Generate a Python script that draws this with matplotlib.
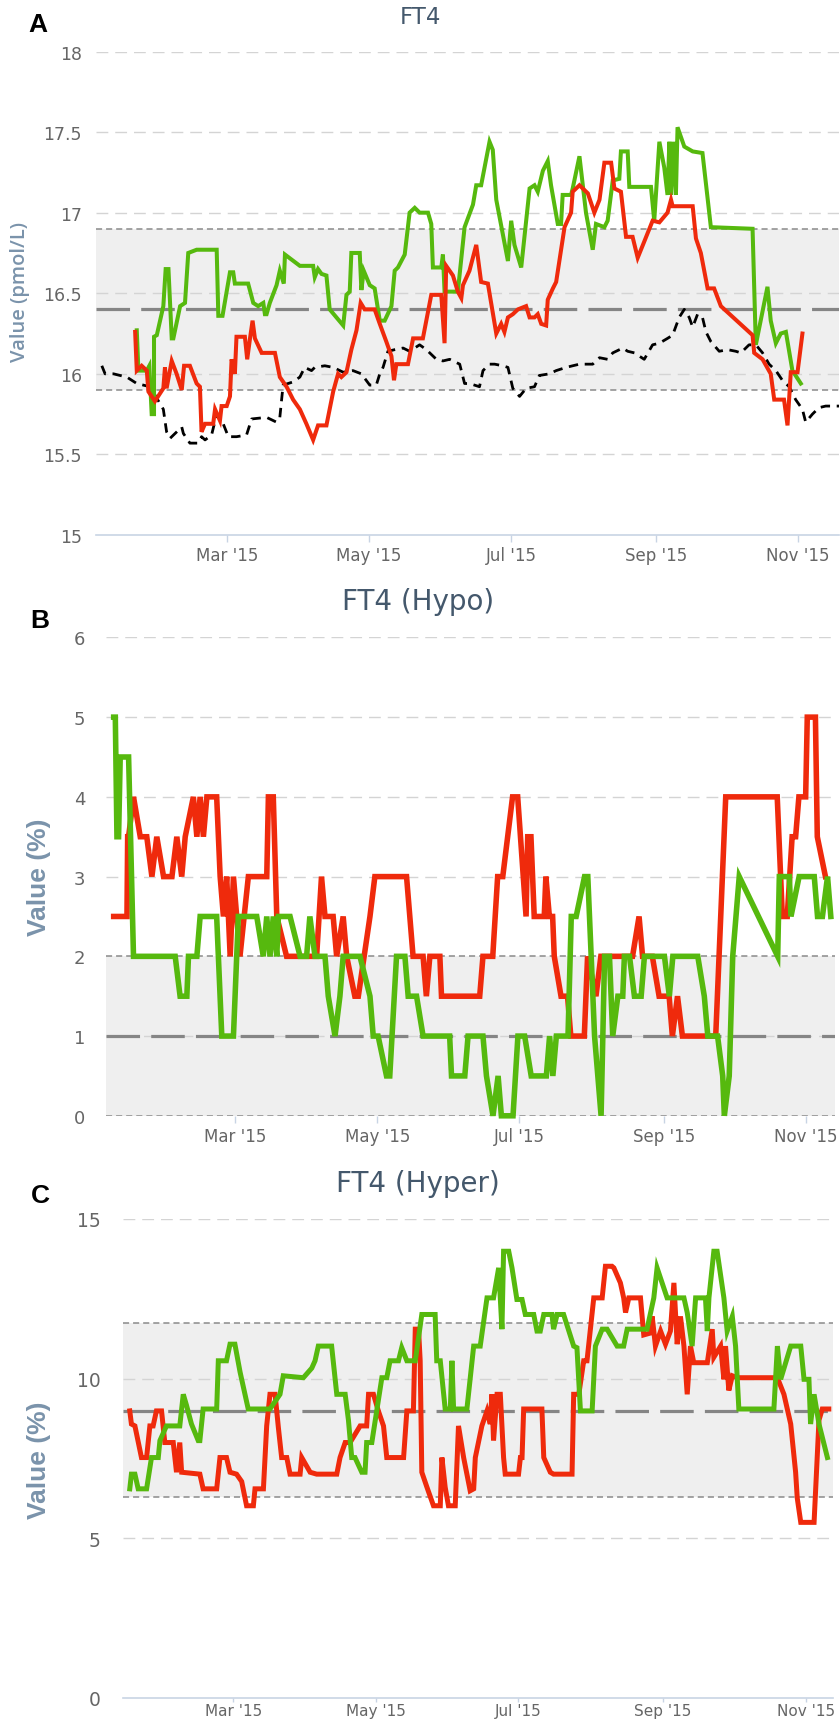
import numpy as np
import matplotlib
matplotlib.use('Agg')
import matplotlib.pyplot as plt
import matplotlib.dates as mdates
import datetime as dt

# ---------------- data (day offset from 2015-01-01, value) ----------------
a_green_day = [20.3, 21.0, 24.6, 25.7, 26.7, 27.7, 27.7, 28.9, 31.7, 32.7, 33.9, 35.3, 36.0, 38.9, 41.0, 42.4, 46.0, 54.6,
               55.3, 57.1, 60.3, 61.7, 62.4, 68.1, 70.3, 72.4, 74.6, 75.3, 76.0, 77.4, 80.3, 81.7, 83.4, 83.9, 90.3, 96.0,
               96.7, 98.1, 99.6, 101.7, 103.1, 108.9, 110.3, 111.7, 112.4, 116.0, 116.7, 117.7, 120.3, 122.4, 124.6, 126.7,
               129.6, 131.0, 132.4, 135.3, 137.4, 139.6, 141.7, 145.3, 146.7, 147.4, 151.0, 151.7, 152.4, 158.1, 161.0,
               164.6, 166.0, 168.1, 171.7, 173.1, 174.6, 179.6, 181.0, 182.4, 185.3, 188.9, 191.0, 192.4, 194.6, 196.7,
               198.1, 201.0, 202.4, 203.1, 206.7, 207.4, 210.3, 213.1, 216.0, 217.4, 221.0, 222.4, 224.6, 227.4, 228.1,
               231.0, 231.7, 241.0, 242.4, 244.6, 246.7, 248.1, 248.9, 249.6, 250.6, 251.7, 252.4, 255.3, 258.9, 263.1,
               266.0, 266.7, 284.6, 286.0, 291.0, 292.4, 294.6, 296.7, 298.9, 301.7, 305.3]
a_green_val = [16.27, 16.02, 16.02, 16.05, 15.75, 15.75, 16.23, 16.24, 16.42, 16.65, 16.65, 16.22, 16.22, 16.42, 16.44, 16.75,
               16.77, 16.77, 16.36, 16.36, 16.63, 16.63, 16.56, 16.56, 16.44, 16.42, 16.44, 16.37, 16.37, 16.44, 16.55, 16.64,
               16.56, 16.74, 16.67, 16.67, 16.60, 16.65, 16.62, 16.61, 16.40, 16.30, 16.49, 16.51, 16.75, 16.75, 16.52, 16.64,
               16.55, 16.53, 16.33, 16.33, 16.42, 16.64, 16.66, 16.74, 17.00, 17.03, 17.00, 17.00, 16.93, 16.66, 16.66, 16.74,
               16.51, 16.51, 16.91, 17.05, 17.17, 17.17, 17.44, 17.39, 17.08, 16.70, 16.95, 16.80, 16.66, 17.15, 17.17, 17.13,
               17.26, 17.32, 17.17, 16.93, 16.93, 17.11, 17.11, 17.15, 17.35, 17.00, 16.77, 16.93, 16.91, 16.95, 17.20, 17.21,
               17.38, 17.38, 17.16, 17.16, 16.95, 17.44, 17.28, 17.11, 17.44, 17.11, 17.44, 17.11, 17.53, 17.41, 17.38, 17.37,
               17.00, 16.91, 16.90, 16.18, 16.54, 16.33, 16.19, 16.25, 16.26, 16.02, 15.94]

a_red_day = [19.6, 20.3, 22.4, 24.6, 25.3, 28.1, 31.7, 32.4, 33.1, 35.3, 37.4, 39.6, 40.6, 43.1, 46.0, 47.4, 48.1, 49.6, 53.1,
             53.9, 56.0, 56.7, 58.9, 60.3, 61.0, 62.4, 63.1, 66.7, 67.7, 68.9, 70.0, 71.0, 73.9, 79.6, 81.7, 84.6, 87.4, 90.3,
             93.1, 96.0, 98.1, 101.7, 104.6, 106.7, 108.1, 110.3, 112.4, 114.6, 116.4, 118.1, 122.4, 124.6, 127.4, 129.6,
             130.7, 131.7, 136.7, 138.9, 141.7, 143.1, 146.7, 151.0, 152.4, 153.1, 156.0, 158.1, 159.6, 160.3, 163.1, 166.0,
             168.1, 171.0, 174.6, 176.7, 178.1, 179.6, 181.7, 183.9, 187.4, 188.9, 191.0, 192.4, 193.9, 196.0, 196.7, 198.9,
             200.3, 203.9, 206.7, 207.4, 210.3, 213.9, 216.7, 218.9, 221.0, 223.9, 225.3, 228.1, 230.3, 233.1, 235.3, 238.1,
             241.7, 244.6, 248.1, 249.6, 250.3, 258.9, 260.3, 262.4, 265.3, 268.1, 271.0, 284.6, 285.3, 288.9, 292.4, 293.9,
             298.1, 299.6, 301.0, 303.9, 306.0]
a_red_val = [16.26, 16.02, 16.05, 16.02, 15.89, 15.83, 15.91, 16.04, 15.91, 16.08, 16.00, 15.90, 16.05, 16.05, 15.94, 15.92,
             15.64, 15.69, 15.69, 15.78, 15.71, 15.80, 15.80, 15.86, 16.09, 16.00, 16.23, 16.23, 16.09, 16.22, 16.33, 16.22,
             16.13, 16.13, 15.98, 15.92, 15.84, 15.78, 15.69, 15.59, 15.68, 15.68, 15.89, 16.00, 15.98, 16.01, 16.15, 16.27,
             16.44, 16.40, 16.40, 16.31, 16.20, 16.11, 15.96, 16.06, 16.06, 16.22, 16.22, 16.22, 16.49, 16.49, 16.19, 16.67,
             16.61, 16.51, 16.47, 16.55, 16.64, 16.80, 16.57, 16.56, 16.25, 16.31, 16.26, 16.35, 16.37, 16.40, 16.42, 16.35,
             16.35, 16.37, 16.31, 16.30, 16.46, 16.53, 16.57, 16.91, 17.00, 17.13, 17.17, 17.12, 17.00, 17.08, 17.31, 17.31,
             17.15, 17.13, 16.85, 16.85, 16.72, 16.82, 16.95, 16.94, 17.00, 17.08, 17.04, 17.04, 16.84, 16.75, 16.53, 16.53,
             16.42, 16.24, 16.13, 16.09, 16.00, 15.84, 15.84, 15.68, 16.01, 16.01, 16.25]

a_ref_day = [5.3, 6.7, 10.3, 13.1, 16.0, 20.3, 23.1, 26.0, 31.7, 33.1, 34.6, 39.6, 40.3, 43.1, 46.7, 48.1, 49.6, 52.4, 54.6,
             57.4, 59.6, 63.1, 67.4, 69.6, 76.0, 80.3, 81.7, 83.1, 87.4, 90.3, 92.4, 95.3, 96.7, 101.0, 104.6, 108.9, 113.1,
             116.7, 120.3, 123.1, 124.6, 126.0, 128.1, 131.0, 134.6, 137.4, 141.7, 144.6, 148.9, 151.7, 154.6, 158.9, 161.0,
             163.1, 167.4, 168.9, 171.7, 173.9, 177.4, 179.6, 181.7, 184.6, 187.4, 191.0, 193.1, 197.4, 200.3, 204.6, 207.4,
             210.3, 213.1, 216.0, 218.9, 222.4, 224.6, 228.9, 231.0, 233.9, 236.0, 238.1, 241.7, 244.6, 248.1, 250.3, 253.1,
             255.3, 257.4, 258.9, 261.0, 263.1, 264.6, 266.7, 270.3, 273.9, 277.4, 279.6, 283.1, 286.0, 288.9, 291.7, 294.6,
             297.4, 300.3, 303.1, 306.0, 307.4, 310.3, 313.1, 316.0, 321.7]
a_ref_val = [16.05, 16.00, 16.00, 15.99, 15.98, 15.94, 15.93, 15.92, 15.78, 15.64, 15.60, 15.67, 15.63, 15.57, 15.57, 15.61,
             15.59, 15.62, 15.75, 15.69, 15.61, 15.61, 15.62, 15.72, 15.73, 15.70, 15.73, 15.93, 15.95, 15.98, 16.04, 16.02,
             16.04, 16.05, 16.04, 16.01, 16.02, 16.00, 15.93, 15.93, 16.00, 16.04, 16.14, 16.15, 16.16, 16.14, 16.18, 16.15,
             16.09, 16.08, 16.09, 16.06, 15.94, 15.94, 15.92, 16.02, 16.06, 16.06, 16.05, 16.04, 15.91, 15.86, 15.91, 15.92,
             15.99, 16.00, 16.02, 16.04, 16.05, 16.06, 16.06, 16.06, 16.10, 16.09, 16.13, 16.16, 16.14, 16.13, 16.11, 16.09,
             16.18, 16.19, 16.22, 16.24, 16.35, 16.40, 16.35, 16.29, 16.37, 16.35, 16.26, 16.20, 16.14, 16.15, 16.14, 16.13,
             16.18, 16.18, 16.13, 16.06, 16.02, 15.96, 15.92, 15.84, 15.78, 15.70, 15.75, 15.79, 15.80, 15.80]

b_green_day = [6.9, 7.6, 8.3, 9.0, 9.7, 13.3, 15.4, 33.3, 35.4, 38.3, 39.0, 42.6, 44.0, 51.1, 53.3, 58.3, 60.4, 68.3, 71.1,
               72.6, 74.0, 75.4, 76.9, 77.6, 82.6, 86.9, 89.7, 91.1, 93.3, 97.6, 99.0, 101.9, 104.0, 105.4, 112.6, 116.9,
               118.3, 120.4, 124.0, 125.4, 128.3, 131.9, 133.3, 136.9, 139.7, 151.1, 151.9, 157.6, 159.0, 165.4, 166.9, 169.7,
               171.9, 173.3, 178.3, 180.4, 183.3, 186.1, 192.6, 194.0, 195.4, 196.9, 201.9, 203.3, 205.4, 209.0, 210.4, 213.3,
               216.1, 217.6, 219.7, 221.1, 223.3, 225.4, 226.1, 228.3, 230.4, 233.3, 234.7, 243.3, 245.4, 246.9, 257.6, 260.4,
               261.9, 266.1, 268.3, 269.0, 271.1, 272.6, 275.4, 291.9, 292.6, 296.9, 297.6, 301.1, 307.6, 309.0, 311.1, 313.3,
               314.7]
b_green_val = [5, 5, 3.5, 3.5, 4.5, 4.5, 2, 2, 1.5, 1.5, 2, 2, 2.5, 2.5, 1, 1, 2.5, 2.5, 2, 2.5, 2, 2.5, 2, 2.5, 2.5, 2, 2,
               2.5, 2, 2, 1.5, 1, 1.5, 2, 2, 1.5, 1, 1, 0.5, 0.5, 2, 2, 1.5, 1.5, 1, 1, 0.5, 0.5, 1, 1, 0.5, 0, 0.5, 0, 0, 1,
               1, 0.5, 0.5, 1, 0.5, 1, 1, 2.5, 2.5, 3, 3, 1, 0, 2, 2, 1, 1.5, 1.5, 2, 2, 1.5, 1.5, 2, 2, 1.5, 2, 2, 1.5, 1, 1,
               0.5, 0, 0.5, 2, 3, 2, 3, 3, 2.5, 3, 3, 2.5, 2.5, 3, 2.5]

b_red_day = [6.9, 12.6, 12.9, 13.3, 15.4, 18.3, 21.1, 23.3, 25.4, 28.3, 31.9, 34.0, 36.1, 37.6, 41.1, 42.6, 44.0, 45.4, 46.9,
             51.1, 52.6, 54.0, 55.4, 56.9, 58.3, 61.1, 64.7, 72.6, 73.3, 75.4, 76.9, 81.1, 94.0, 96.1, 97.6, 101.1, 102.6,
             105.4, 106.9, 110.4, 111.9, 116.9, 119.0, 132.6, 135.4, 139.7, 141.1, 142.6, 146.9, 147.6, 164.0, 165.4, 169.6,
             171.7, 173.9, 176.0, 178.1, 180.3, 183.9, 184.6, 186.0, 187.4, 191.7, 192.4, 193.9, 195.3, 196.0, 198.9, 201.7,
             203.1, 208.9, 210.3, 213.9, 216.0, 229.6, 232.4, 233.9, 238.1, 241.0, 245.3, 246.7, 248.9, 251.0, 265.3, 269.6,
             291.7, 293.9, 296.0, 298.1, 299.6, 301.0, 303.9, 304.6, 308.1, 308.9, 312.4]
b_red_val = [2.5, 2.5, 3.5, 3.5, 4, 3.5, 3.5, 3, 3.5, 3, 3, 3.5, 3, 3.5, 4, 3.5, 4, 3.5, 4, 4, 3, 2.5, 3, 2, 3, 2, 3, 3, 4,
             4, 2.5, 2, 2, 3, 2.5, 2.5, 2, 2.5, 2, 1.5, 1.5, 2.5, 3, 3, 2, 2, 1.5, 2, 2, 1.5, 1.5, 2, 2, 3, 3, 3.5, 4, 4, 2.5,
             3.5, 3.5, 2.5, 2.5, 3, 2.5, 2.5, 2, 1.5, 1.5, 1, 1, 2, 1.5, 2, 2, 2.5, 2, 2, 1.5, 1.5, 1, 1.5, 1, 1, 4, 4, 2.5,
             2.5, 3.5, 3.5, 4, 4, 5, 5, 3.5, 3]

c_green_day = [14.7, 15.4, 16.9, 18.3, 21.9, 24.0, 26.9, 27.6, 30.4, 36.1, 37.6, 39.0, 41.1, 44.0, 44.7, 46.1, 51.9, 52.6,
               56.1, 57.6, 59.7, 61.9, 65.4, 74.7, 79.0, 80.4, 89.0, 92.6, 94.0, 95.4, 101.1, 103.3, 106.9, 108.3, 109.7,
               111.1, 114.0, 115.4, 116.1, 118.3, 122.6, 124.7, 126.1, 129.7, 131.1, 133.3, 136.9, 139.7, 145.4, 146.1, 147.6,
               149.7, 151.9, 152.6, 153.3, 156.1, 159.0, 161.9, 164.7, 167.6, 170.4, 172.6, 174.0, 174.7, 176.9, 178.3, 180.4,
               182.6, 184.0, 187.6, 189.0, 190.4, 191.9, 195.4, 196.1, 197.6, 200.4, 204.7, 206.1, 207.6, 212.6, 214.0, 216.9,
               219.0, 223.3, 226.1, 227.6, 236.1, 239.0, 240.4, 244.7, 251.9, 253.3, 255.4, 256.9, 261.1, 261.9, 262.6, 264.7,
               266.1, 269.0, 270.4, 272.6, 274.0, 275.4, 290.4, 291.9, 293.3, 297.6, 301.9, 303.3, 305.4, 306.1, 307.6, 309.7,
               313.3]
c_green_val = [6.55, 7.01, 7.01, 6.55, 6.55, 7.53, 7.53, 8.06, 8.52, 8.52, 9.51, 9.16, 8.58, 8.06, 8.06, 9.05, 9.05, 10.56,
               10.56, 11.08, 11.08, 10.21, 9.05, 9.05, 9.51, 10.09, 10.03, 10.33, 10.56, 11.02, 11.02, 9.51, 9.51, 8.70, 7.53,
               7.53, 7.07, 7.07, 8.00, 8.00, 10.03, 10.03, 10.56, 10.56, 10.97, 10.56, 10.56, 12.01, 12.01, 10.56, 10.56, 9.05,
               9.05, 10.56, 9.05, 9.05, 9.05, 11.02, 11.02, 12.53, 12.53, 13.47, 11.55, 13.99, 13.99, 13.47, 12.48, 12.48,
               12.01, 12.01, 11.49, 11.49, 12.01, 12.01, 11.55, 12.01, 12.01, 11.02, 10.97, 8.99, 8.99, 11.02, 11.55, 11.55,
               11.02, 11.02, 11.55, 11.55, 12.53, 13.47, 12.53, 12.53, 12.07, 11.02, 12.53, 12.53, 11.49, 12.53, 13.99, 13.99,
               12.53, 11.49, 11.95, 11.02, 9.05, 9.05, 11.02, 9.98, 11.02, 11.02, 9.98, 9.98, 8.58, 9.51, 8.58, 7.53]

c_red_day = [14.7, 15.4, 16.9, 19.7, 21.9, 23.3, 24.7, 26.1, 28.3, 29.7, 33.3, 34.7, 36.1, 36.9, 44.7, 46.1, 51.9, 53.3, 56.1,
             57.6, 60.4, 62.6, 64.7, 67.6, 68.3, 71.9, 73.3, 74.7, 76.9, 78.3, 79.7, 81.9, 83.3, 87.6, 88.3, 91.9, 94.7,
             103.3, 104.7, 106.9, 109.0, 113.3, 116.1, 116.9, 119.0, 121.1, 123.3, 124.7, 131.9, 133.3, 136.1, 136.9, 138.3,
             139.0, 139.7, 141.9, 144.7, 147.6, 148.3, 149.7, 151.1, 154.0, 155.4, 157.6, 160.4, 161.9, 162.6, 165.4, 167.6,
             169.0, 169.7, 170.4, 171.9, 173.3, 174.7, 175.4, 181.1, 181.9, 182.6, 183.3, 191.1, 191.9, 194.7, 196.1, 204.0,
             204.7, 206.9, 209.0, 210.4, 213.3, 216.9, 218.3, 221.1, 221.9, 224.7, 226.1, 226.9, 228.3, 233.3, 234.7, 237.6,
             238.3, 239.7, 241.9, 244.0, 246.1, 247.6, 249.0, 250.4, 251.9, 253.3, 254.7, 256.1, 261.9, 264.0, 264.7, 267.6,
             269.0, 269.7, 271.1, 272.6, 274.7, 291.9, 294.7, 297.6, 299.7, 300.4, 301.9, 307.6, 309.7, 311.1, 313.9]
c_red_val = [8.99, 8.58, 8.52, 7.53, 7.53, 8.52, 8.52, 8.99, 8.99, 8.00, 8.00, 7.07, 8.00, 7.07, 7.01, 6.55, 6.55, 7.53,
             7.53, 7.07, 7.01, 6.78, 6.02, 6.02, 6.55, 6.55, 8.52, 9.51, 9.51, 8.47, 7.53, 7.53, 7.01, 7.01, 7.53, 7.07,
             7.01, 7.01, 7.53, 8.00, 8.00, 8.52, 8.52, 9.51, 9.51, 8.99, 8.52, 7.53, 7.53, 8.99, 8.99, 11.55, 11.55, 10.56,
             7.07, 6.60, 6.02, 6.02, 7.53, 6.60, 6.02, 6.02, 8.52, 7.53, 6.49, 6.55, 7.53, 8.52, 8.99, 8.58, 9.51, 8.06,
             9.51, 9.51, 7.53, 7.01, 7.01, 7.53, 7.53, 9.05, 9.05, 7.53, 7.07, 7.01, 7.01, 9.51, 9.51, 10.56, 10.56, 12.53,
             12.53, 13.52, 13.52, 13.47, 13.00, 12.53, 12.07, 12.53, 12.53, 11.37, 11.43, 11.95, 11.02, 11.49, 11.08, 11.49,
             13.00, 11.08, 11.95, 11.02, 9.51, 11.02, 10.50, 10.50, 11.55, 10.67, 11.02, 9.98, 11.02, 9.63, 10.09, 10.03,
             10.03, 9.51, 8.58, 7.07, 6.26, 5.50, 5.50, 8.70, 9.05, 9.05]

titles = ["FT4", "FT4 (Hypo)", "FT4 (Hyper)"]
ylabels = ["Value (pmol/L)", "Value (%)", "Value (%)"]
panel_letters = ["A", "B", "C"]
y_ticks_a = [15, 15.5, 16, 16.5, 17, 17.5, 18]
y_ticks_b = [0, 1, 2, 3, 4, 5, 6]
y_ticks_c = [0, 5, 10, 15]
ref_a = (15.9, 16.4, 16.9)   # lower, mean, upper
ref_b = (0.0, 1.0, 2.0)
ref_c = (6.3, 9.0, 11.73)
month_ticks = [dt.date(2015, 3, 1), dt.date(2015, 5, 1), dt.date(2015, 7, 1), dt.date(2015, 9, 1), dt.date(2015, 11, 1)]
month_labels = ["Mar '15", "May '15", "Jul '15", "Sep '15", "Nov '15"]

# ---------------- drawing ----------------
RED = '#ef2a0c'
GREEN = '#56b90e'
GRID = '#d4d4d4'
BAND_EDGE = '#8a8a8a'
MEAN = '#858585'
TICK = '#666666'
TITLE = '#44586c'
YLAB = '#7a93ab'
AXIS = '#c8d4e4'

base = mdates.date2num(dt.date(2015, 1, 1))


def to_x(days):
    return base + np.asarray(days, dtype=float)


fig = plt.figure(figsize=(8.4, 17.24), dpi=100)

W, H = 840.0, 1724.0
geo = {
    'A': dict(l=96, r=839, t=52.5, b=536, xl=2.8, xr=321.7),
    'B': dict(l=106, r=835, t=638.4, b=1116.8, xl=3.6, xr=316.5),
    'C': dict(l=123, r=833, t=1220, b=1699, xl=11.8, xr=315.7),
}


def make_ax(g):
    return fig.add_axes([g['l'] / W, 1 - g['b'] / H, (g['r'] - g['l']) / W, (g['b'] - g['t']) / H])


def style(ax, g, yticks, ref, ylim, tick_fs, pad, axis_line=True, xfs=12, xpad=3, xlen=5):
    ax.set_xlim(base + g['xl'], base + g['xr'])
    ax.set_ylim(*ylim)
    for s in ax.spines.values():
        s.set_visible(False)
    if axis_line:
        ax.spines['bottom'].set_visible(True)
        ax.spines['bottom'].set_color(AXIS)
        ax.spines['bottom'].set_linewidth(1.2)
    ax.axhspan(ref[0], ref[2], color='#efefef', zorder=0, lw=0)
    for yv in yticks:
        if yv == ylim[0] and axis_line:
            continue
        if abs(yv - ref[0]) < 1e-6 or abs(yv - ref[2]) < 1e-6:
            continue
        ax.axhline(yv, color=GRID, lw=1.0, dashes=(8.5, 5), zorder=1)
    for yv in (ref[0], ref[2]):
        ax.axhline(yv, color=BAND_EDGE, lw=1.1, dashes=(4, 2.6), zorder=1.5)
    ax.axhline(ref[1], color=MEAN, lw=2.3, dashes=(10.5, 3.5), zorder=1.6)
    ax.set_yticks(yticks)
    ax.set_yticklabels([('%g' % v) for v in yticks])
    ax.tick_params(axis='y', length=0, labelsize=tick_fs, labelcolor=TICK, pad=pad)
    ax.set_xticks([mdates.date2num(d) for d in month_ticks])
    ax.set_xticklabels(month_labels)
    ax.tick_params(axis='x', direction='out', length=xlen, width=1, color=AXIS,
                   labelsize=xfs, labelcolor=TICK, pad=xpad)


# Panel A
axA = make_ax(geo['A'])
style(axA, geo['A'], y_ticks_a, ref_a, (15, 18), 12.5, 10)
axA.plot(to_x(a_ref_day), a_ref_val, color='black', lw=2.0, dashes=(3.4, 2.4), zorder=3)
axA.plot(to_x(a_green_day), a_green_val, color=GREEN, lw=2.9, zorder=4, solid_joinstyle='miter')
axA.plot(to_x(a_red_day), a_red_val, color=RED, lw=2.9, zorder=5, solid_joinstyle='miter')

# Panel B
axB = make_ax(geo['B'])
style(axB, geo['B'], y_ticks_b, ref_b, (0, 6), 13, 15, axis_line=False)
axB.plot(to_x(b_red_day), b_red_val, color=RED, lw=4.0, zorder=4, solid_joinstyle='miter', clip_on=False)
axB.plot(to_x(b_green_day), b_green_val, color=GREEN, lw=4.0, zorder=5, solid_joinstyle='miter', clip_on=False)

# Panel C
axC = make_ax(geo['C'])
style(axC, geo['C'], y_ticks_c, ref_c, (0, 15), 13.5, 16, xfs=11, xpad=0.5, xlen=3)
axC.plot(to_x(c_red_day), c_red_val, color=RED, lw=3.6, zorder=4, solid_joinstyle='miter')
axC.plot(to_x(c_green_day), c_green_val, color=GREEN, lw=3.6, zorder=5, solid_joinstyle='miter')

# titles, letters, y labels
fig.text(0.5, 1 - 18 / H, titles[0], ha='center', va='center', fontsize=16.5, color=TITLE)
fig.text(0.498, 1 - 602 / H, titles[1], ha='center', va='center', fontsize=20, color=TITLE)
fig.text(0.498, 1 - 1184 / H, titles[2], ha='center', va='center', fontsize=20, color=TITLE)

for letter, (x, y) in zip(panel_letters, [(38, 25), (40, 621), (40, 1196)]):
    fig.text(x / W, 1 - y / H, letter, ha='center', va='center', fontsize=19, fontweight='bold',
             family=['Liberation Sans', 'DejaVu Sans'], color='black')

fig.text(20 / W, 1 - 292 / H, ylabels[0], rotation=90, ha='center', va='center', fontsize=14.5,
         color=YLAB, fontweight='semibold', family=['Open Sans', 'DejaVu Sans'])
fig.text(39 / W, 1 - 877 / H, ylabels[1], rotation=90, ha='center', va='center', fontsize=19,
         color=YLAB, fontweight='bold', family=['Liberation Sans Narrow', 'Liberation Sans', 'DejaVu Sans'])
fig.text(39 / W, 1 - 1460 / H, ylabels[2], rotation=90, ha='center', va='center', fontsize=19,
         color=YLAB, fontweight='bold', family=['Liberation Sans Narrow', 'Liberation Sans', 'DejaVu Sans'])

fig.savefig('out.png', dpi=100, facecolor='white')
